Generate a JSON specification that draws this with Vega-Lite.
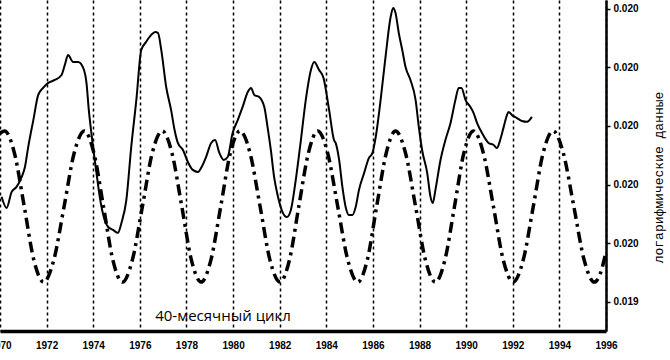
{
  "$schema": "https://vega.github.io/schema/vega-lite/v6.json",
  "width": 606,
  "height": 331,
  "autosize": {"type": "none"},
  "padding": {"left": 0, "top": 0, "right": 64, "bottom": 29},
  "background": "white",
  "config": {"view": {"stroke": null}},
  "datasets": {
    "price": [
      {"year": 1970.07, "value": 0.019758}, {"year": 1970.28, "value": 0.019720}, {"year": 1970.50, "value": 0.019775},
      {"year": 1970.71, "value": 0.019792}, {"year": 1970.93, "value": 0.019826}, {"year": 1971.07, "value": 0.019860},
      {"year": 1971.21, "value": 0.019928}, {"year": 1971.43, "value": 0.020020}, {"year": 1971.64, "value": 0.020106},
      {"year": 1971.85, "value": 0.020130}, {"year": 1972.07, "value": 0.020147}, {"year": 1972.35, "value": 0.020157},
      {"year": 1972.64, "value": 0.020174}, {"year": 1972.78, "value": 0.020208}, {"year": 1972.92, "value": 0.020242},
      {"year": 1973.14, "value": 0.020218}, {"year": 1973.35, "value": 0.020218}, {"year": 1973.57, "value": 0.020198},
      {"year": 1973.71, "value": 0.020147}, {"year": 1973.81, "value": 0.020055}, {"year": 1973.92, "value": 0.019976},
      {"year": 1974.14, "value": 0.019839}, {"year": 1974.28, "value": 0.019758}, {"year": 1974.49, "value": 0.019679},
      {"year": 1974.64, "value": 0.019655}, {"year": 1974.85, "value": 0.019645}, {"year": 1975.06, "value": 0.019635},
      {"year": 1975.21, "value": 0.019669}, {"year": 1975.42, "value": 0.019747}, {"year": 1975.63, "value": 0.019928},
      {"year": 1975.85, "value": 0.020089}, {"year": 1976.06, "value": 0.020259}, {"year": 1976.27, "value": 0.020287},
      {"year": 1976.49, "value": 0.020311}, {"year": 1976.66, "value": 0.020321}, {"year": 1976.78, "value": 0.020317},
      {"year": 1976.92, "value": 0.020259}, {"year": 1977.13, "value": 0.020133}, {"year": 1977.34, "value": 0.020055},
      {"year": 1977.49, "value": 0.019986}, {"year": 1977.63, "value": 0.019942}, {"year": 1977.85, "value": 0.019918},
      {"year": 1978.06, "value": 0.019877}, {"year": 1978.27, "value": 0.019850}, {"year": 1978.49, "value": 0.019843},
      {"year": 1978.63, "value": 0.019857}, {"year": 1978.84, "value": 0.019894}, {"year": 1979.06, "value": 0.019942},
      {"year": 1979.23, "value": 0.019952}, {"year": 1979.41, "value": 0.019908}, {"year": 1979.60, "value": 0.019884},
      {"year": 1979.77, "value": 0.019894}, {"year": 1979.98, "value": 0.019976}, {"year": 1980.20, "value": 0.020020},
      {"year": 1980.41, "value": 0.020065}, {"year": 1980.63, "value": 0.020116}, {"year": 1980.77, "value": 0.020130},
      {"year": 1980.91, "value": 0.020106}, {"year": 1981.12, "value": 0.020099}, {"year": 1981.34, "value": 0.020065},
      {"year": 1981.48, "value": 0.019996}, {"year": 1981.62, "value": 0.019918}, {"year": 1981.76, "value": 0.019826},
      {"year": 1981.91, "value": 0.019764}, {"year": 1982.12, "value": 0.019706}, {"year": 1982.31, "value": 0.019689},
      {"year": 1982.48, "value": 0.019713}, {"year": 1982.69, "value": 0.019816}, {"year": 1982.91, "value": 0.019952},
      {"year": 1983.12, "value": 0.020089}, {"year": 1983.34, "value": 0.020191}, {"year": 1983.48, "value": 0.020218},
      {"year": 1983.69, "value": 0.020191}, {"year": 1983.88, "value": 0.020164}, {"year": 1984.12, "value": 0.020055},
      {"year": 1984.33, "value": 0.019952}, {"year": 1984.40, "value": 0.019942}, {"year": 1984.55, "value": 0.019884},
      {"year": 1984.69, "value": 0.019792}, {"year": 1984.83, "value": 0.019723}, {"year": 1984.97, "value": 0.019696},
      {"year": 1985.12, "value": 0.019696}, {"year": 1985.26, "value": 0.019723}, {"year": 1985.40, "value": 0.019781},
      {"year": 1985.62, "value": 0.019839}, {"year": 1985.83, "value": 0.019891}, {"year": 1985.98, "value": 0.019908},
      {"year": 1986.12, "value": 0.019962}, {"year": 1986.33, "value": 0.020089}, {"year": 1986.54, "value": 0.020235},
      {"year": 1986.76, "value": 0.020372}, {"year": 1986.87, "value": 0.020403}, {"year": 1986.97, "value": 0.020386},
      {"year": 1987.11, "value": 0.020317}, {"year": 1987.26, "value": 0.020259}, {"year": 1987.40, "value": 0.020201},
      {"year": 1987.61, "value": 0.020157}, {"year": 1987.83, "value": 0.020089}, {"year": 1987.97, "value": 0.019996},
      {"year": 1988.11, "value": 0.019918}, {"year": 1988.33, "value": 0.019839}, {"year": 1988.47, "value": 0.019758},
      {"year": 1988.57, "value": 0.019737}, {"year": 1988.68, "value": 0.019781}, {"year": 1988.90, "value": 0.019884},
      {"year": 1989.11, "value": 0.019952}, {"year": 1989.33, "value": 0.020010}, {"year": 1989.54, "value": 0.020089},
      {"year": 1989.68, "value": 0.020130}, {"year": 1989.80, "value": 0.020130}, {"year": 1989.97, "value": 0.020089},
      {"year": 1990.18, "value": 0.020065}, {"year": 1990.32, "value": 0.020044}, {"year": 1990.47, "value": 0.020010},
      {"year": 1990.68, "value": 0.019976}, {"year": 1990.96, "value": 0.019942}, {"year": 1991.18, "value": 0.019935},
      {"year": 1991.32, "value": 0.019925}, {"year": 1991.46, "value": 0.019952}, {"year": 1991.61, "value": 0.019996},
      {"year": 1991.75, "value": 0.020037}, {"year": 1991.82, "value": 0.020048}, {"year": 1991.97, "value": 0.020037},
      {"year": 1992.18, "value": 0.020027}, {"year": 1992.39, "value": 0.020017}, {"year": 1992.61, "value": 0.020014},
      {"year": 1992.82, "value": 0.020031}
    ],
    "cycle": [
      {"year": 1970.0, "value": 0.019975}, {"year": 1970.20, "value": 0.019983}, {"year": 1970.62, "value": 0.019907},
      {"year": 1971.04, "value": 0.019725}, {"year": 1971.45, "value": 0.019543}, {"year": 1971.87, "value": 0.019467},
      {"year": 1972.31, "value": 0.019543}, {"year": 1972.75, "value": 0.019725}, {"year": 1973.18, "value": 0.019907},
      {"year": 1973.62, "value": 0.019983}, {"year": 1974.03, "value": 0.019907}, {"year": 1974.44, "value": 0.019725},
      {"year": 1974.84, "value": 0.019543}, {"year": 1975.25, "value": 0.019467}, {"year": 1975.68, "value": 0.019543},
      {"year": 1976.11, "value": 0.019725}, {"year": 1976.53, "value": 0.019907}, {"year": 1976.96, "value": 0.019983},
      {"year": 1977.38, "value": 0.019907}, {"year": 1977.80, "value": 0.019725}, {"year": 1978.21, "value": 0.019543},
      {"year": 1978.63, "value": 0.019467}, {"year": 1979.05, "value": 0.019543}, {"year": 1979.47, "value": 0.019725},
      {"year": 1979.88, "value": 0.019907}, {"year": 1980.30, "value": 0.019983}, {"year": 1980.73, "value": 0.019907},
      {"year": 1981.16, "value": 0.019725}, {"year": 1981.58, "value": 0.019543}, {"year": 1982.01, "value": 0.019467},
      {"year": 1982.42, "value": 0.019543}, {"year": 1982.82, "value": 0.019725}, {"year": 1983.23, "value": 0.019907},
      {"year": 1983.63, "value": 0.019983}, {"year": 1984.06, "value": 0.019907}, {"year": 1984.49, "value": 0.019725},
      {"year": 1984.92, "value": 0.019543}, {"year": 1985.35, "value": 0.019467}, {"year": 1985.76, "value": 0.019543},
      {"year": 1986.16, "value": 0.019725}, {"year": 1986.57, "value": 0.019907}, {"year": 1986.97, "value": 0.019983},
      {"year": 1987.40, "value": 0.019907}, {"year": 1987.83, "value": 0.019725}, {"year": 1988.25, "value": 0.019543},
      {"year": 1988.68, "value": 0.019467}, {"year": 1989.09, "value": 0.019543}, {"year": 1989.50, "value": 0.019725},
      {"year": 1989.90, "value": 0.019907}, {"year": 1990.31, "value": 0.019983}, {"year": 1990.74, "value": 0.019907},
      {"year": 1991.17, "value": 0.019725}, {"year": 1991.59, "value": 0.019543}, {"year": 1992.02, "value": 0.019467},
      {"year": 1992.45, "value": 0.019543}, {"year": 1992.88, "value": 0.019725}, {"year": 1993.30, "value": 0.019907},
      {"year": 1993.73, "value": 0.019983}, {"year": 1994.17, "value": 0.019907}, {"year": 1994.62, "value": 0.019725},
      {"year": 1995.06, "value": 0.019543}, {"year": 1995.50, "value": 0.019467}, {"year": 1995.75, "value": 0.019495},
      {"year": 1996.00, "value": 0.019570}
    ],
    "notes": [
      {"year": 1979.57, "value": 0.019351, "label": "40-месячный цикл"}
    ]
  },
  "layer": [
    {
      "data": {"name": "price"},
      "mark": {"type": "line", "color": "black", "strokeWidth": 2, "interpolate": "monotone", "clip": true},
      "encoding": {
        "x": {
          "field": "year", "type": "quantitative",
          "scale": {"domain": [1970.0, 1996.0], "nice": false, "zero": false},
          "axis": {
            "orient": "bottom", "title": null,
            "values": [1970, 1972, 1974, 1976, 1978, 1980, 1982, 1984, 1986, 1988, 1990, 1992, 1994, 1996],
            "format": "d", "labelFlush": false, "labelOverlap": false, "labelBound": false,
            "grid": true, "gridColor": "black", "gridDash": [3, 3], "gridWidth": 1.5, "gridOpacity": 1,
            "domainColor": "black", "domainWidth": 3.5,
            "ticks": false,
            "labelFont": "Liberation Sans", "labelFontWeight": "bold", "labelFontSize": 10, "labelColor": "black",
            "labelPadding": 9
          }
        },
        "y": {
          "field": "value", "type": "quantitative",
          "scale": {"domain": [0.0193, 0.02043], "nice": false, "zero": false},
          "axis": {
            "orient": "right",
            "values": [0.0194, 0.0196, 0.0198, 0.02, 0.0202, 0.0204],
            "format": ".3f", "grid": false, "labelOverlap": false, "labelFlush": false,
            "domainColor": "black", "domainWidth": 2.5,
            "tickColor": "black", "tickSize": 4, "tickWidth": 1.5,
            "labelFont": "Liberation Sans", "labelFontWeight": "bold", "labelFontSize": 10, "labelColor": "black",
            "labelPadding": 3,
            "title": "логарифмические данные", "titleAngle": 270,
            "titleFont": "Liberation Mono", "titleFontWeight": "normal", "titleFontSize": 13, "titleColor": "black",
            "titleX": 52, "titleY": 177, "titleAlign": "center", "titleBaseline": "middle"
          }
        }
      }
    },
    {
      "data": {"name": "cycle"},
      "mark": {"type": "line", "color": "black", "strokeWidth": 3.5, "strokeDash": [11, 5, 3, 5], "interpolate": "monotone", "clip": true},
      "encoding": {
        "x": {"field": "year", "type": "quantitative"},
        "y": {"field": "value", "type": "quantitative"}
      }
    },
    {
      "data": {"name": "notes"},
      "mark": {"type": "text", "font": "Open Sans", "fontSize": 15, "color": "black", "align": "center", "baseline": "middle"},
      "encoding": {
        "x": {"field": "year", "type": "quantitative"},
        "y": {"field": "value", "type": "quantitative"},
        "text": {"field": "label"}
      }
    }
  ]
}
